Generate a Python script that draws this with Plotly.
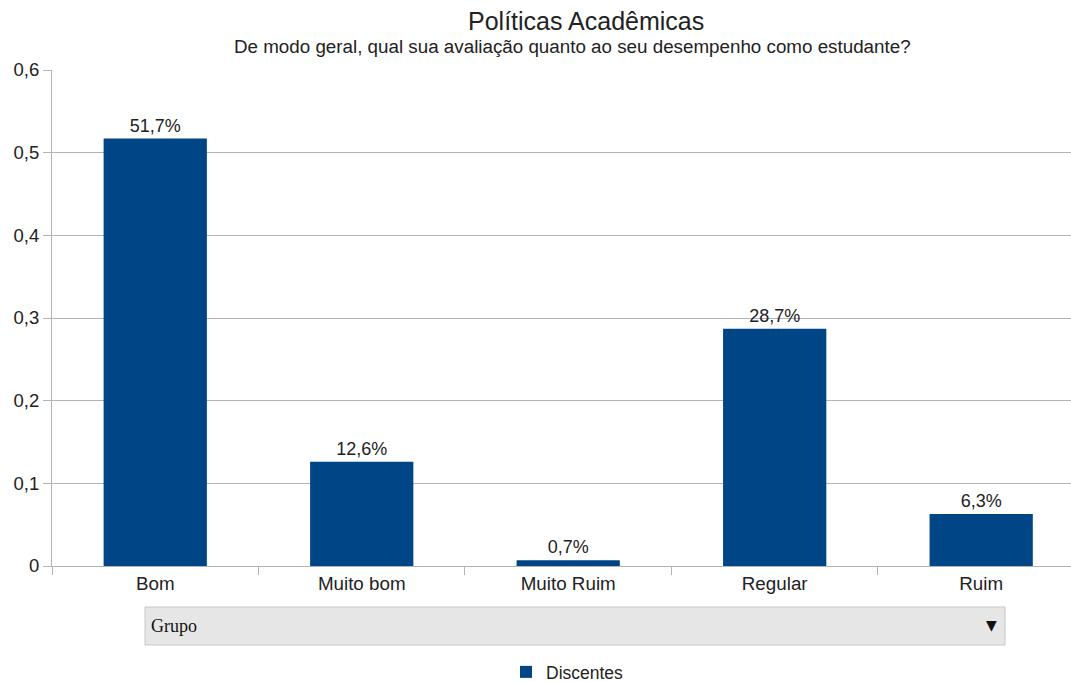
import plotly.graph_objects as go

categories = ["Bom", "Muito bom", "Muito Ruim", "Regular", "Ruim"]
values = [0.517, 0.126, 0.007, 0.287, 0.063]
series_name = "Discentes"
title = "Políticas Acadêmicas"
subtitle = "De modo geral, qual sua avaliação quanto ao seu desempenho como estudante?"

W, H = 1071, 682
L, R, T, B = 52, 0, 70, 116
pw = W - L - R
ph = H - T - B

def px(x):
    return (x - L) / pw

def py(y):
    return (H - B - y) / ph

fig = go.Figure()
fig.add_trace(go.Bar(
    x=categories, y=values, name=series_name,
    marker=dict(color="#004586", line=dict(width=0)),
    texttemplate="%{y:.1%}", textposition="outside",
    textfont=dict(size=18, color="#222222", family="Liberation Sans"),
    cliponaxis=False, showlegend=True,
))

fig.update_layout(
    width=W, height=H,
    margin=dict(l=L, r=R, t=T, b=B, autoexpand=False),
    paper_bgcolor="white", plot_bgcolor="white",
    separators=",.",
    font=dict(family="Liberation Sans", size=18, color="#222222"),
    bargap=0.5,
    showlegend=True,
    legend=dict(orientation="h", x=px(506), xanchor="left", y=py(672), yanchor="middle",
                font=dict(size=17.5)),
    xaxis=dict(range=[-0.5, 4.435], tickson="boundaries", ticks="outside", ticklen=8,
               tickcolor="#b3b3b3", showline=True, linecolor="#b3b3b3", showgrid=False,
               tickfont=dict(size=18.8), fixedrange=True, automargin=False),
    yaxis=dict(range=[0, 0.6], dtick=0.1, ticks="outside", ticklen=8, tickcolor="#b3b3b3",
               showline=True, linecolor="#b3b3b3", gridcolor="#b3b3b3", zeroline=False,
               tickfont=dict(size=18.5), fixedrange=True, automargin=False),
)

fig.add_shape(type="rect", xref="paper", yref="paper",
              x0=px(145), x1=px(1005), y0=py(645), y1=py(607),
              fillcolor="#e6e6e6", line=dict(color="#c8c8c8", width=1), layer="above")

fig.add_annotation(text="Grupo", xref="paper", yref="paper", x=px(149), y=py(626),
                   xanchor="left", yanchor="middle", showarrow=False,
                   font=dict(family="Liberation Serif", size=18, color="#111111"))
fig.add_annotation(text="▼", xref="paper", yref="paper", x=px(991), y=py(625),
                   xanchor="center", yanchor="middle", showarrow=False,
                   font=dict(family="DejaVu Sans", size=14, color="#111111"))

fig.add_annotation(text=title, xref="paper", yref="paper", x=px(586), y=py(21),
                   xanchor="center", yanchor="middle", showarrow=False,
                   font=dict(size=25, color="#222222"))
fig.add_annotation(text=subtitle, xref="paper", yref="paper", x=px(572), y=py(46),
                   xanchor="center", yanchor="middle", showarrow=False,
                   font=dict(size=18.8, color="#222222"))

fig.write_html("out.html", config={"displayModeBar": False},
               post_script="document.body.style.margin='0';")
